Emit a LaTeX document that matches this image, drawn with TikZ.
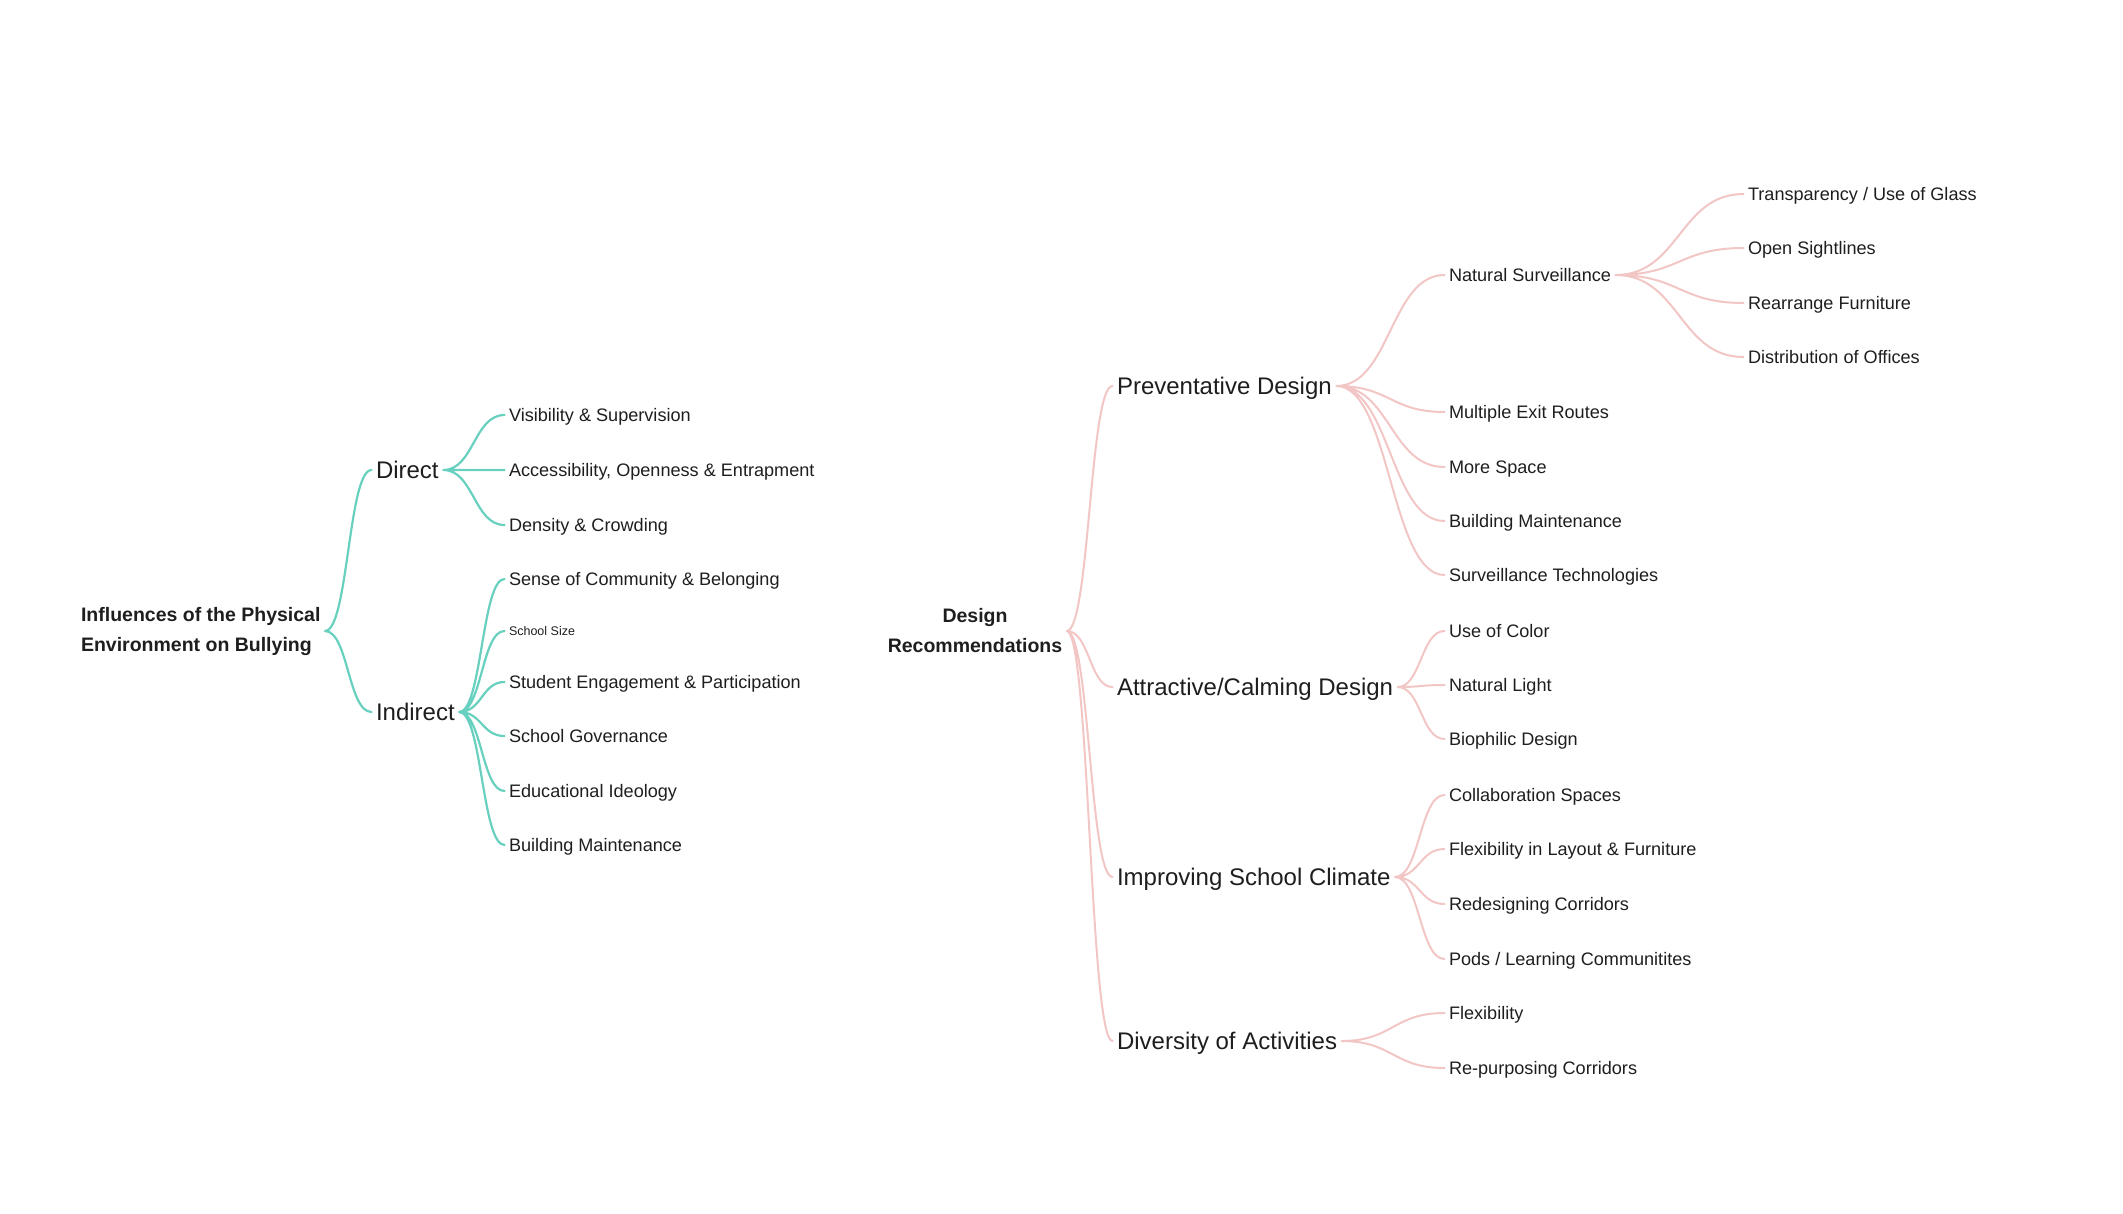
\documentclass[tikz,border=0pt]{standalone}
\usepackage{fontspec}
\setmainfont{Liberation Sans}
\usetikzlibrary{calc}
\definecolor{MapInk}{HTML}{1E1E1E}
\definecolor{MapTeal}{HTML}{68D0BF}
\definecolor{MapPink}{HTML}{F2C6C4}

\begin{document}
\begin{tikzpicture}[x=1pt,y=-1pt,
    every node/.style={inner sep=0pt,outer xsep=4.5pt,outer ysep=0pt,text=MapInk},
    topic/.style={font=\fontsize{19.5}{30}\selectfont\bfseries},
    branch/.style={anchor=west,text height=17.3pt,text depth=0pt,font=\fontsize{24}{28}\selectfont},
    leaf/.style={anchor=west,text height=13pt,text depth=0pt,font=\fontsize{18.1}{22}\selectfont},
    smallleaf/.style={anchor=west,text height=9pt,text depth=0pt,font=\fontsize{12.5}{15}\selectfont},
    link/.style={line cap=round,to path={let \p1=(\tikztostart),\p2=(\tikztotarget) in
      .. controls (\x1*0.5+\x2*0.5,\y1) and (\x1*0.5+\x2*0.5,\y2) .. (\tikztotarget)}},
    tealink/.style={link,draw=MapTeal,line width=2.2pt},
    pinklink/.style={link,draw=MapPink,line width=2pt}]
  \useasboundingbox (0,0) rectangle (2123,1213);

  \node[topic,anchor=west,align=left] (infl) at (76.5,631) {Influences of the Physical\\Environment on Bullying};
  \node[branch] (direct) at (371.5,470) {Direct};
  \node[branch] (indirect) at (371.5,712) {Indirect};
  \node[leaf] (vis) at (504.5,415) {Visibility \& Supervision};
  \node[leaf] (acc) at (504.5,470) {Accessibility, Openness \& Entrapment};
  \node[leaf] (dens) at (504.5,525) {Density \& Crowding};
  \node[leaf] (sense) at (504.5,579) {Sense of Community \& Belonging};
  \node[smallleaf] (size) at (504.5,631) {School Size};
  \node[leaf] (engage) at (504.5,682) {Student Engagement \& Participation};
  \node[leaf] (govern) at (504.5,736) {School Governance};
  \node[leaf] (ideol) at (504.5,791) {Educational Ideology};
  \node[leaf] (bmaintA) at (504.5,845) {Building Maintenance};

  \draw[tealink] (infl.east) to (direct.west) (infl.east) to (indirect.west);
  \draw[tealink] (direct.east) to (vis.west) (direct.east) to (acc.west) (direct.east) to (dens.west);
  \draw[tealink] (indirect.east) to (sense.west) (indirect.east) to (size.west) (indirect.east) to (engage.west)
    (indirect.east) to (govern.west) (indirect.east) to (ideol.west) (indirect.east) to (bmaintA.west);

  \node[topic,align=center] (design) at (975,631) {Design\\Recommendations};
  \node[branch] (prev) at (1112.5,386) {Preventative Design};
  \node[branch] (attr) at (1112.5,687) {Attractive/Calming Design};
  \node[branch] (climate) at (1112.5,877) {Improving School Climate};
  \node[branch] (divers) at (1112.5,1041) {Diversity of Activities};

  \node[leaf] (natsurv) at (1444.5,275) {Natural Surveillance};
  \node[leaf] (exits) at (1444.5,412) {Multiple Exit Routes};
  \node[leaf] (space) at (1444.5,467) {More Space};
  \node[leaf] (bmaintB) at (1444.5,521) {Building Maintenance};
  \node[leaf] (survtech) at (1444.5,575) {Surveillance Technologies};
  \node[leaf] (color) at (1444.5,631) {Use of Color};
  \node[leaf] (light) at (1444.5,685) {Natural Light};
  \node[leaf] (bioph) at (1444.5,739) {Biophilic Design};
  \node[leaf] (collab) at (1444.5,795) {Collaboration Spaces};
  \node[leaf] (flexlay) at (1444.5,849) {Flexibility in Layout \& Furniture};
  \node[leaf] (redes) at (1444.5,904) {Redesigning Corridors};
  \node[leaf] (pods) at (1444.5,959) {Pods / Learning Communitites};
  \node[leaf] (flex) at (1444.5,1013) {Flexibility};
  \node[leaf] (repurp) at (1444.5,1068) {Re-purposing Corridors};

  \node[leaf] (glass) at (1743.5,194) {Transparency / Use of Glass};
  \node[leaf] (sight) at (1743.5,248) {Open Sightlines};
  \node[leaf] (furn) at (1743.5,303) {Rearrange Furniture};
  \node[leaf] (offices) at (1743.5,357) {Distribution of Offices};

  \draw[pinklink] (design.east) to (prev.west) (design.east) to (attr.west)
    (design.east) to (climate.west) (design.east) to (divers.west);
  \draw[pinklink] (prev.east) to (natsurv.west) (prev.east) to (exits.west) (prev.east) to (space.west)
    (prev.east) to (bmaintB.west) (prev.east) to (survtech.west);
  \draw[pinklink] (natsurv.east) to (glass.west) (natsurv.east) to (sight.west)
    (natsurv.east) to (furn.west) (natsurv.east) to (offices.west);
  \draw[pinklink] (attr.east) to (color.west) (attr.east) to (light.west) (attr.east) to (bioph.west);
  \draw[pinklink] (climate.east) to (collab.west) (climate.east) to (flexlay.west)
    (climate.east) to (redes.west) (climate.east) to (pods.west);
  \draw[pinklink] (divers.east) to (flex.west) (divers.east) to (repurp.west);
\end{tikzpicture}
\end{document}
